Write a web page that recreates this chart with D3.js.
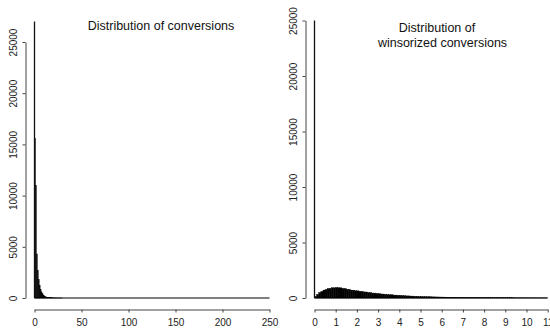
<!DOCTYPE html>
<html>
<head>
<meta charset="utf-8">
<script src="https://cdn.jsdelivr.net/npm/d3@7"></script>
<style>
  html, body { margin: 0; padding: 0; background: #fff; }
  svg { display: block; font-family: "Liberation Sans", Arial, Helvetica, sans-serif; }
</style>
</head>
<body>
<div id="chart"></div>
<script>
// --- Data ---
// Left: raw conversions, bins of width 1 starting at 0; all later bins up to 250 are ~0
const convZeroCount = 27000;
const convBinWidth = 1;
const convCounts = [15600, 11000, 4300, 2700, 1800, 1250, 850, 600, 420, 300,
  210, 150, 110, 80, 60, 45, 34, 26, 20, 15, 12, 9, 7, 6, 5, 4, 3, 3, 2, 2];
const convRange = [0, 250];
const convTicksX = [0, 50, 100, 150, 200, 250];

// Right: winsorized conversions, bins of width 0.1 starting at 0
const winsZeroCount = 25000;
const winsBinWidth = 0.1;
const winsCounts = [150, 330, 490, 590, 710, 770, 850, 870, 920, 915,
  945, 920, 915, 860, 845, 790, 770, 710, 700, 650,
  645, 600, 590, 545, 540, 495, 490, 445, 440, 400,
  395, 360, 355, 325, 320, 290, 290, 262, 258, 240,
  238, 215, 210, 190, 188, 172, 168, 152, 150, 138,
  136, 125, 124, 112, 110, 102, 100, 92, 91, 84,
  82, 75, 74, 68, 67, 62, 61, 56, 55, 51,
  50, 46, 46, 43, 42, 39, 38, 36, 35, 33,
  32, 30, 29, 28, 27, 26, 25, 24, 23, 22,
  21, 20, 19, 19, 18, 17, 17, 16, 15, 15,
  14, 14, 13, 13, 12, 12, 11, 11, 10, 10];
const winsRange = [0, 11];
const winsTicksX = [0, 1, 2, 3, 4, 5, 6, 7, 8, 9, 10, 11];

const countTicks = [0, 5000, 10000, 15000, 20000, 25000];

// --- SVG ---
const W = 550, H = 328;
const svg = d3.select("#chart").append("svg")
  .attr("width", W).attr("height", H);

const axisColor = "#444";

function panel(opt) {
  const x = d3.scaleLinear().domain(opt.range).range(opt.xRange);
  const y = d3.scaleLinear().domain([0, 25000]).range(opt.yRange);
  const g = svg.append("g");

  const bins = opt.counts.map((c, i) => ({ x0: i * opt.binWidth, x1: (i + 1) * opt.binWidth, count: c }));

  // baseline: zero-count bins drawn by the histogram along y = 0
  g.append("line")
    .attr("x1", x(opt.range[0])).attr("x2", x(opt.range[1]))
    .attr("y1", y(0)).attr("y2", y(0))
    .attr("stroke", "#000").attr("stroke-width", 1);

  g.selectAll("rect.bar")
    .data(bins)
    .join("rect")
    .attr("class", "bar")
    .attr("x", d => x(d.x0))
    .attr("width", d => x(d.x1) - x(d.x0))
    .attr("y", d => y(d.count))
    .attr("height", d => y(0) - y(d.count))
    .attr("fill", "#000")
    .attr("stroke", "#000")
    .attr("stroke-width", 0.4);

  // the zero bin is very narrow, shows as a thin line
  g.append("line")
    .attr("x1", x(0)).attr("x2", x(0))
    .attr("y1", y(0)).attr("y2", y(opt.zeroCount))
    .attr("stroke", "#111").attr("stroke-width", 1.3);

  // x axis
  const xa = g.append("g")
    .attr("transform", `translate(0,${opt.xAxisY})`)
    .call(d3.axisBottom(x).tickValues(opt.ticksX).tickFormat(d3.format("d"))
      .tickSize(3).tickSizeOuter(0).tickPadding(6));
  xa.select(".domain").attr("stroke", axisColor);
  xa.selectAll(".tick line").attr("stroke", axisColor);
  xa.selectAll(".tick text").style("font-size", "10px").attr("fill", "#222");

  // y axis
  const ya = g.append("g")
    .attr("transform", `translate(${opt.yAxisX},0)`)
    .call(d3.axisLeft(y).tickValues(countTicks).tickFormat(d3.format("d"))
      .tickSize(3).tickSizeOuter(0));
  ya.select(".domain").attr("stroke", axisColor);
  ya.selectAll(".tick line").attr("stroke", axisColor);
  ya.selectAll(".tick text")
    .attr("transform", "rotate(-90)")
    .attr("x", 0).attr("y", -8.7).attr("dy", 0)
    .attr("text-anchor", "middle")
    .style("font-size", "10px").attr("fill", "#222");

  // title
  opt.title.forEach(t => {
    g.append("text")
      .attr("x", t.x).attr("y", t.y)
      .attr("text-anchor", "middle")
      .style("font-size", "12.5px")
      .attr("fill", "#111")
      .text(t.text);
  });
}

panel({
  range: convRange, binWidth: convBinWidth, counts: convCounts, zeroCount: convZeroCount,
  ticksX: convTicksX,
  xRange: [34.5, 269.5], yRange: [298, 42],
  xAxisY: 309.5, yAxisX: 25.5,
  title: [{ text: "Distribution of conversions", x: 161, y: 29.5 }]
});

panel({
  range: winsRange, binWidth: winsBinWidth, counts: winsCounts, zeroCount: winsZeroCount,
  ticksX: winsTicksX,
  xRange: [314.5, 547.7], yRange: [298, 20.5],
  xAxisY: 309.5, yAxisX: 305.5,
  title: [
    { text: "Distribution of", x: 437, y: 31.5 },
    { text: "winsorized conversions", x: 442.5, y: 46.5 }
  ]
});
</script>
</body>
</html>
